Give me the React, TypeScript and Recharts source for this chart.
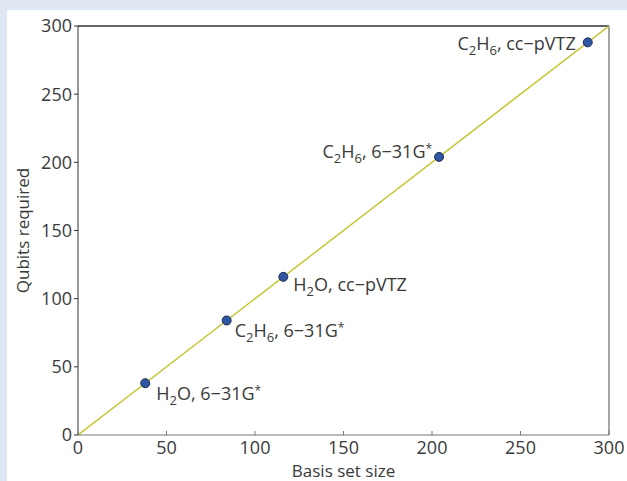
import {
  ComposedChart,
  Scatter,
  Line,
  XAxis,
  YAxis,
  ReferenceLine,
  LabelList,
} from "recharts";

// points: basis set size vs qubits required
const molecules = ["H2O", "C2H6", "H2O", "C2H6", "C2H6"];
const basisSets = ["6−31G*", "6−31G*", "cc−pVTZ", "6−31G*", "cc−pVTZ"];
const basisSize = [38, 84, 116, 204, 288];
const qubits = [38, 84, 116, 204, 288];

// y = x guide line
const guideX = [0, 300];
const guideY = [0, 300];

const axisTicks = [0, 50, 100, 150, 200, 250, 300];

const points = basisSize.map((x, i) => ({ x, y: qubits[i], i }));
const guide = guideX.map((x, i) => ({ x, y: guideY[i] }));

const FONT = "'Open Sans', 'DejaVu Sans', sans-serif";
const TEXT = "#3a3a3a";

// label placement relative to each dot centre: [dx, dy, anchor]
const placement: [number, number, "start" | "end"][] = [
  [11, 17, "start"],
  [8, 17, "start"],
  [10, 14, "start"],
  [-7, 1, "end"],
  [-12, 8, "end"],
];

function Formula({ text }: { text: string }) {
  const parts = text.match(/[A-Z][a-z]?|\d+/g) || [];
  return (
    <>
      {parts.map((p, k) =>
        /\d/.test(p) ? (
          <tspan key={k} fontSize={13} dy={5}>
            {p}
          </tspan>
        ) : (
          <tspan key={k} dy={k > 0 && /\d/.test(parts[k - 1]) ? -5 : 0}>
            {p}
          </tspan>
        )
      )}
    </>
  );
}

function PointLabel(props: any) {
  const { x, y, width = 0, height = 0, index } = props;
  const cx = x + width / 2;
  const cy = y + height / 2;
  const [dx, dy, anchor] = placement[index];
  const mol = molecules[index];
  const basis = basisSets[index];
  const endsSub = /\d$/.test(mol);
  const star = basis.endsWith("*");
  const core = star ? basis.slice(0, -1) : basis;
  return (
    <text
      x={cx + dx}
      y={cy + dy}
      textAnchor={anchor}
      fontFamily={FONT}
      fontSize={18}
      fill={TEXT}
    >
      <Formula text={mol} />
      <tspan dy={endsSub ? -5 : 0}>{", " + core}</tspan>
      {star && (
        <tspan fontSize={12} dy={-5}>
          *
        </tspan>
      )}
    </text>
  );
}

function XTick(props: any) {
  const { x, y, payload } = props;
  return (
    <g>
      <line x1={x} x2={x} y1={y} y2={y - 4} stroke="#777" />
      <text
        x={x}
        y={y + 12}
        textAnchor="middle"
        dominantBaseline="central"
        fontFamily={FONT}
        fontSize={18}
        fill={TEXT}
      >
        {payload.value}
      </text>
    </g>
  );
}

export default function App() {
  return (
    <div
      style={{
        position: "fixed",
        left: 0,
        top: 0,
        width: 627,
        height: 481,
        background: "#dfe7f3",
      }}
    >
      <div
        style={{
          position: "absolute",
          left: 7,
          top: 10,
          width: 620,
          height: 471,
          background: "#fff",
        }}
      >
        <ComposedChart
          width={620}
          height={471}
          margin={{ top: 16, right: 18, left: 0, bottom: 0 }}
        >
          <XAxis
            dataKey="x"
            type="number"
            domain={[0, 300]}
            ticks={axisTicks}
            allowDataOverflow
            height={46}
            stroke="#777"
            tickLine={false}
            tickSize={0}
            tickMargin={0}
            tick={<XTick />}
            label={({ viewBox }: any) => (
              <text
                x={viewBox.x + viewBox.width / 2}
                y={viewBox.y + 35}
                textAnchor="middle"
                dominantBaseline="central"
                fontFamily={FONT}
                fontSize={17}
                fill={TEXT}
              >
                Basis set size
              </text>
            )}
          />
          <YAxis
            dataKey="y"
            type="number"
            domain={[0, 300]}
            ticks={axisTicks}
            allowDataOverflow
            width={71}
            stroke="#333"
            tickSize={4}
            tickMargin={2}
            tick={{ fill: TEXT, fontSize: 18, fontFamily: FONT }}
            label={({ viewBox }: any) => {
              const cx = viewBox.x + 15;
              const cy = viewBox.y + viewBox.height / 2;
              return (
                <text
                  x={cx}
                  y={cy}
                  transform={`rotate(-90, ${cx}, ${cy})`}
                  textAnchor="middle"
                  dominantBaseline="central"
                  fontFamily={FONT}
                  fontSize={17}
                  fill={TEXT}
                >
                  Qubits required
                </text>
              );
            }}
          />
          <ReferenceLine y={300} stroke="#333" strokeWidth={1.5} />
          <ReferenceLine x={300} stroke="#888" strokeWidth={1.5} />
          <Line
            data={guide}
            dataKey="y"
            stroke="#c6c63a"
            strokeWidth={1.5}
            dot={false}
            activeDot={false}
            isAnimationActive={false}
          />
          <Scatter
            data={points}
            dataKey="y"
            isAnimationActive={false}
            shape={(p: any) => (
              <circle
                cx={p.cx}
                cy={p.cy}
                r={4.5}
                fill="#2f55a3"
                stroke="#1c2c50"
                strokeWidth={1}
              />
            )}
          >
            <LabelList dataKey="y" content={<PointLabel />} />
          </Scatter>
        </ComposedChart>
      </div>
    </div>
  );
}
